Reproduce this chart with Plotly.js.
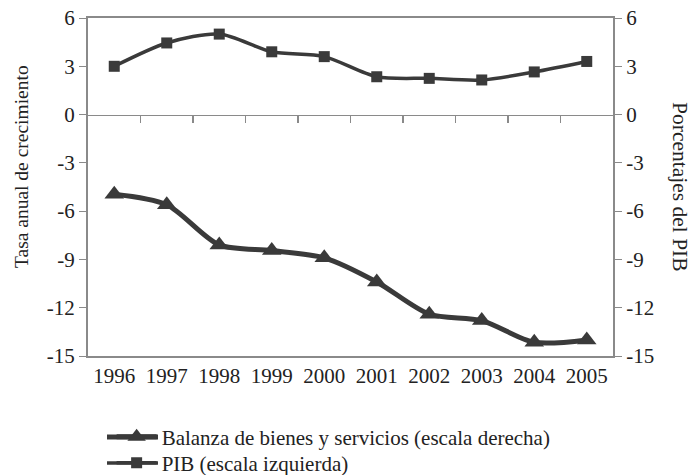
<!DOCTYPE html>
<html><head><meta charset="utf-8">
<script src="https://cdn.plot.ly/plotly-3.0.1.min.js"></script>
<style>body{margin:0;background:#fff}#chart{width:694px;height:475px}</style>
</head><body><div id="chart"></div>
<script>
var years = ["1996","1997","1998","1999","2000","2001","2002","2003","2004","2005"];
var balanza = [-4.95, -5.6, -8.1, -8.45, -8.9, -10.4, -12.4, -12.8, -14.15, -14.0];
var pib = [3.0, 4.45, 5.0, 3.9, 3.6, 2.35, 2.25, 2.15, 2.65, 3.3];
var yTicks = [6, 3, 0, -3, -6, -9, -12, -15];
var yTickText = ["6", "3", "0", "-3", "-6", "-9", "-12", "-15"];

var idx = years.map(function(_, i){ return i; });
var lineCol = '#3a3a3a';
var axisCol = '#8a8a8a';
var fontFam = '"Liberation Serif", "Times New Roman", serif';
var fs = 21;
var row1 = (356 - 437) / 338, row2 = (356 - 463) / 338;

var traces = [
  {x: idx, y: balanza, name: 'Balanza de bienes y servicios (escala derecha)', type: 'scatter', mode: 'lines+markers',
   yaxis: 'y2', legend: 'legend', line: {color: lineCol, width: 5, shape: 'spline', smoothing: 0.8},
   marker: {symbol: 'triangle-up', size: 17, color: lineCol}},
  {x: idx, y: pib, name: 'PIB (escala izquierda)', type: 'scatter', mode: 'lines+markers', legend: 'legend2',
   line: {color: lineCol, width: 3.5, shape: 'spline', smoothing: 0.8},
   marker: {symbol: 'square', size: 11, color: lineCol}},
  {x: [0], y: [0], xaxis: 'x2', type: 'scatter', mode: 'markers', marker: {opacity: 0}, showlegend: false, hoverinfo: 'skip'}
];

function legendCfg(y) {
  return {x: 0.045, xanchor: 'left', y: y, yanchor: 'middle', font: {family: fontFam, size: fs, color: '#222'},
          itemwidth: 40, bgcolor: 'rgba(0,0,0,0)', borderwidth: 0};
}

var layout = {
  width: 694, height: 475,
  margin: {l: 88, r: 81, t: 18, b: 119, autoexpand: false},
  paper_bgcolor: '#fff', plot_bgcolor: '#fff',
  font: {family: fontFam, size: fs, color: '#222'},
  showlegend: true,
  legend: legendCfg(row1),
  legend2: legendCfg(row2),
  xaxis: {range: [-0.5, 9.5], tickvals: idx, ticktext: years, showgrid: false, zeroline: false,
          showline: true, linecolor: axisCol, linewidth: 2, mirror: true, ticks: '', ticklen: 0,
          tickfont: {family: fontFam, size: fs, color: '#222'}},
  xaxis2: {overlaying: 'x', anchor: 'free', position: 15/21, range: [-0.5, 9.5],
           tickvals: [0.5,1.5,2.5,3.5,4.5,5.5,6.5,7.5,8.5], showticklabels: false, ticks: 'outside', ticklen: 7,
           tickcolor: axisCol, tickwidth: 1.5, showline: true, linecolor: axisCol, linewidth: 1.5, showgrid: false, zeroline: false},
  yaxis: {range: [-15, 6], tickvals: yTicks, ticktext: yTickText, showgrid: false, zeroline: false, showline: true,
          linecolor: axisCol, linewidth: 2, ticks: 'outside', ticklen: 7, tickcolor: axisCol,
          tickfont: {family: fontFam, size: fs, color: '#222'}},
  yaxis2: {overlaying: 'y', side: 'right', range: [-15, 6], tickvals: yTicks, ticktext: yTickText, showgrid: false, zeroline: false,
           showline: true, linecolor: axisCol, linewidth: 2, ticks: 'outside', ticklen: 7, tickcolor: axisCol,
           tickfont: {family: fontFam, size: fs, color: '#222'}},
  shapes: [
    {type: 'line', xref: 'paper', yref: 'paper', x0: (107-88)/525, x1: (158-88)/525, y0: row1, y1: row1,
     line: {color: lineCol, width: 5}, layer: 'below'},
    {type: 'line', xref: 'paper', yref: 'paper', x0: (107-88)/525, x1: (158-88)/525, y0: row2, y1: row2,
     line: {color: lineCol, width: 3.5}, layer: 'below'}
  ],
  annotations: [
    {text: 'Tasa anual de crecimiento', xref: 'paper', yref: 'paper', x: -0.1276, y: 0.559, xanchor: 'center', yanchor: 'middle',
     textangle: -90, showarrow: false, font: {family: fontFam, size: 19.5, color: '#222'}},
    {text: 'Porcentajes del PIB', xref: 'paper', yref: 'paper', x: 1.1276, y: 0.5, xanchor: 'center', yanchor: 'middle',
     textangle: 90, showarrow: false, font: {family: fontFam, size: 21.5, color: '#222'}}
  ]
};

Plotly.newPlot('chart', traces, layout, {staticPlot: true, displayModeBar: false});
</script></body></html>
